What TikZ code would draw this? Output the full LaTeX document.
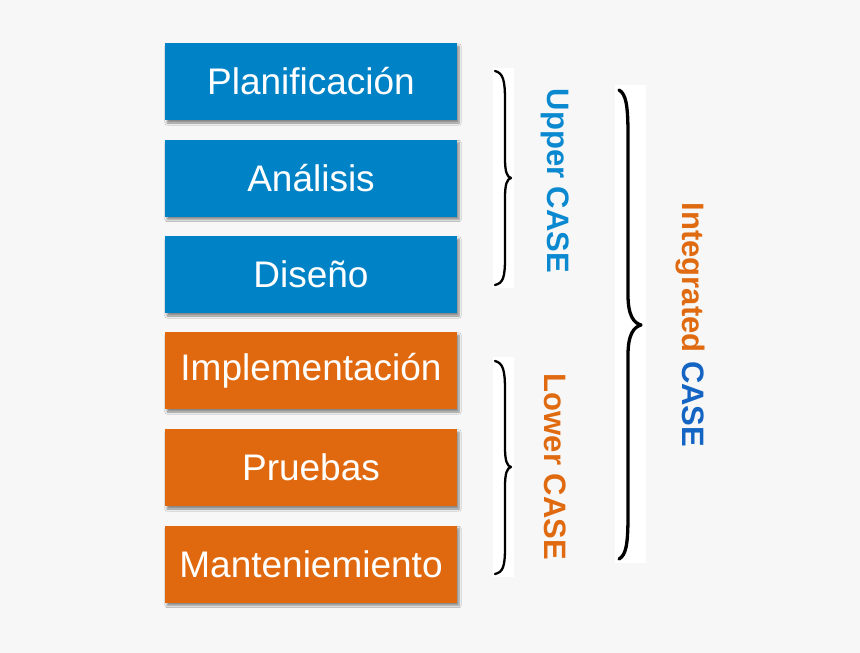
\documentclass[tikz,border=0pt]{standalone}
\usepackage{fontspec}
\setmainfont{Liberation Sans}
\usetikzlibrary{shadows.blur}
\definecolor{bgc}{HTML}{F7F7F7}
\definecolor{boxblue}{HTML}{0083C6}
\definecolor{boxorange}{HTML}{E0690F}
\definecolor{txtblue}{HTML}{0A88D0}
\definecolor{txtorange}{HTML}{E06A10}
\definecolor{darkblue}{HTML}{1464C4}
\tikzset{
  phase/.style={minimum width=292pt, minimum height=77pt, inner sep=0pt, text=white,
    font=\fontsize{37}{40}\selectfont,
    blur shadow={shadow xshift=2pt, shadow yshift=-3pt, shadow blur steps=6, shadow opacity=45}},
  bluebox/.style={phase, fill=boxblue},
  orangebox/.style={phase, fill=boxorange},
  sidelabel/.style={rotate=-90, font=\bfseries\fontsize{31}{34}\selectfont, inner sep=0pt},
  bracepath/.style={draw=black, line width=2.3pt, line cap=round, line join=round},
  bracebg/.style={fill=white, draw=none}
}
\begin{document}
\begin{tikzpicture}[x=1pt, y=-1pt]
\fill[bgc] (0,0) rectangle (860,653);
\useasboundingbox (0,0) rectangle (860,653);

\node[bluebox] (p1) at (311,81.5) {Planificación};
\node[bluebox] (p2) at (311,178) {Análisis};
\node[bluebox] (p3) at (311,274.5) {Diseño};
\node[orangebox] (p4) at (311,370.5) {Implementación};
\node[orangebox] (p5) at (311,467.5) {Pruebas};
\node[orangebox] (p6) at (311,564) {Manteniemiento};

% upper brace
\fill[bracebg] (493,68) rectangle (514,288);
\draw[bracepath] (495,71) .. controls (503,73) and (505,80) .. (505,100) -- (505,158)
  .. controls (505,172) and (507,177) .. (511,178)
  .. controls (507,179) and (505,184) .. (505,198) -- (505,258)
  .. controls (505,278) and (503,283) .. (495,285);
% lower brace
\fill[bracebg] (493,357) rectangle (514,577);
\draw[bracepath] (495,361) .. controls (503,363) and (505,370) .. (505,390) -- (505,447)
  .. controls (505,461) and (507,466) .. (511,467)
  .. controls (507,468) and (505,473) .. (505,487) -- (505,547)
  .. controls (505,567) and (503,572) .. (495,574);
% integrated brace
\fill[bracebg] (615,85) rectangle (646,563);
\draw[bracepath, line width=3.3pt] (619,90) .. controls (626,94) and (628,105) .. (628,135) -- (628,295)
  .. controls (628,316) and (634,323) .. (641,325)
  .. controls (634,327) and (628,334) .. (628,355) -- (628,515)
  .. controls (628,545) and (626,555) .. (619,559);

\node[sidelabel, text=txtblue] (up) at (555,181) {Upper CASE};
\node[sidelabel, text=txtorange] (low) at (555,467) {Lower CASE};
\node[sidelabel] (integ) at (690,325) {\textcolor{txtorange}{Integrated} \textcolor{darkblue}{CASE}};
\end{tikzpicture}
\end{document}
